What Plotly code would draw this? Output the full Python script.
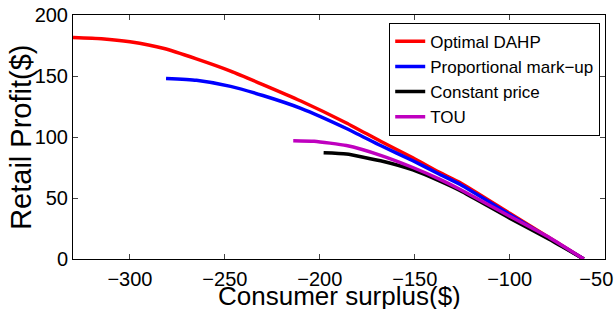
import plotly.graph_objects as go

# Data
dahp_x = [-330, -315, -300, -282, -265, -247, -230, -210, -186, -168, -151, -137, -126, -100, -61]
dahp_y = [181.5, 180.5, 178, 172.5, 164, 154, 143, 129.5, 111.5, 96.5, 83, 71, 62.5, 37.5, 0]

prop_x = [-281, -265, -247, -230, -210, -186, -168, -151, -137, -126, -100, -61]
prop_y = [148, 146.5, 141.5, 134, 123.5, 107, 93, 80.5, 69.5, 61, 36.5, 0]

const_x = [-198, -186, -168, -151, -137, -126, -100, -79, -61]
const_y = [87, 86, 80.5, 73, 64, 56, 33.5, 16, 0]

tou_x = [-214, -203, -186, -168, -151, -137, -126, -100, -79, -61]
tou_y = [97, 96.5, 93, 85, 75, 65.5, 57, 35, 17.5, 0]

names = ["Optimal DAHP", "Proportional mark\u2212up", "Constant price", "TOU"]
colors = ["#ff0000", "#0000ff", "#000000", "#bf00bf"]

x_ticks = [-300, -250, -200, -150, -100, -50]
x_labels = ["\u2212300", "\u2212250", "\u2212200", "\u2212150", "\u2212100", "\u221250\u00a0\u00a0\u00a0"]
y_ticks = [0, 50, 100, 150, 200]

fig = go.Figure()
for xs, ys, n, c in zip([dahp_x, prop_x, const_x, tou_x],
                        [dahp_y, prop_y, const_y, tou_y], names, colors):
    fig.add_trace(go.Scatter(x=xs, y=ys, mode="lines", name=n,
                             line=dict(color=c, width=3.5, shape="spline", smoothing=0.5)))

font_family = "Liberation Sans, Arial, sans-serif"
fig.update_layout(
    width=616, height=309,
    margin=dict(l=73, r=11, t=15, b=50, autoexpand=False),
    paper_bgcolor="white", plot_bgcolor="white",
    font=dict(family=font_family, color="black", size=20),
    showlegend=True,
    legend=dict(x=0.991, y=0.968, xanchor="right", yanchor="top",
                bordercolor="black", borderwidth=1, bgcolor="white",
                font=dict(size=17), tracegroupgap=0, itemwidth=30),
    xaxis=dict(range=[-330, -49.8], tickvals=x_ticks, ticktext=x_labels,
               ticks="inside", ticklen=5, ticklabeloverflow="allow", automargin=False,
               ticklabelstandoff=2,
               showline=True, linecolor="black", linewidth=1, mirror="ticks",
               showgrid=False, zeroline=False, tickfont=dict(size=20)),
    yaxis=dict(range=[0, 200], tickvals=y_ticks, ticks="inside", ticklen=5,
               automargin=False,
               showline=True, linecolor="black", linewidth=1, mirror="ticks",
               showgrid=False, zeroline=False, tickfont=dict(size=20)),
    annotations=[
        dict(text="Consumer surplus($)", xref="paper", yref="paper",
             x=0.5, y=-0.152, xanchor="center", yanchor="middle",
             showarrow=False, font=dict(size=26)),
        dict(text="Retail Profit($)", xref="paper", yref="paper",
             x=-0.098, y=0.5, xanchor="center", yanchor="middle", textangle=-90,
             showarrow=False, font=dict(size=29)),
    ],
)
fig.write_html("out.html", config={"displayModeBar": False},
               post_script="document.body.style.margin='0';")
